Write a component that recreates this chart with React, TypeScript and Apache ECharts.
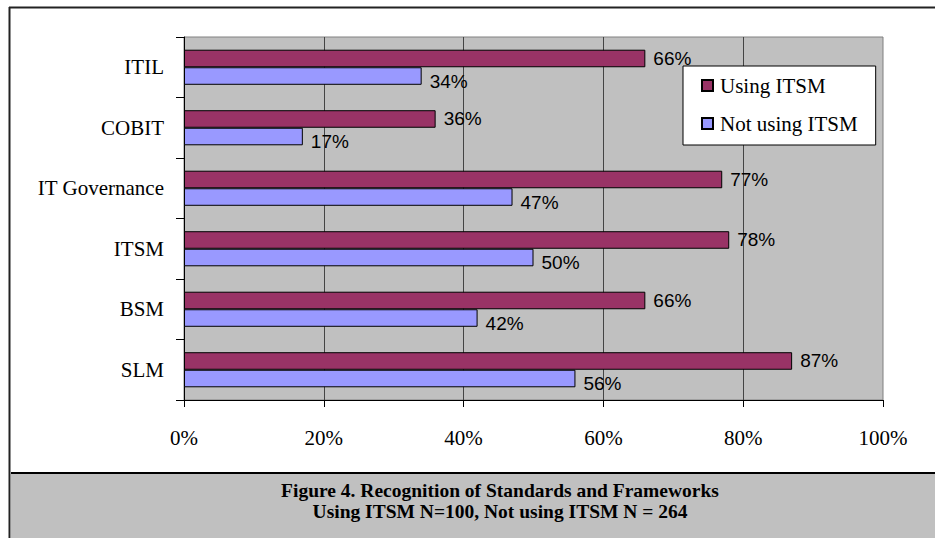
import React, { useEffect, useRef } from "react";
import * as echarts from "echarts";

const categories = ["ITIL", "COBIT", "IT Governance", "ITSM", "BSM", "SLM"];
const usingITSM = [66, 36, 77, 78, 66, 87];
const notUsingITSM = [34, 17, 47, 50, 42, 56];
const xTicks = [0, 20, 40, 60, 80, 100];
const seriesNames = ["Using ITSM", "Not using ITSM"];
const captionLines = [
  "Figure 4. Recognition of Standards and Frameworks",
  "Using ITSM N=100, Not using ITSM N = 264",
];

const SERIF = "'Liberation Serif', 'Times New Roman', serif";
const SANS = "'Liberation Sans', Arial, sans-serif";

export default function App() {
  const ref = useRef<HTMLDivElement>(null);
  useEffect(() => {
    if (!ref.current) return;
    const chart = echarts.init(ref.current, null, { renderer: "svg" });
    chart.setOption({
      animation: false,
      backgroundColor: "#ffffff",
      grid: {
        left: 184,
        top: 37,
        width: 699,
        height: 363,
        show: true,
        backgroundColor: "#C0C0C0",
        borderColor: "#808080",
        borderWidth: 1,
      },
      legend: {
        orient: "vertical",
        left: 683,
        top: 66,
        data: seriesNames,
        backgroundColor: "#ffffff",
        borderColor: "#000000",
        borderWidth: 1,
        padding: [9, 18, 11, 18],
        itemGap: 17,
        itemWidth: 11,
        itemHeight: 11,
        icon: "rect",
        textStyle: {
          fontFamily: SERIF,
          fontSize: 21,
          lineHeight: 20,
          color: "#000",
          padding: [0, 0, 0, 2],
        },
      },
      xAxis: {
        type: "value",
        min: xTicks[0],
        max: xTicks[xTicks.length - 1],
        interval: 20,
        axisLine: { show: true, lineStyle: { color: "#000", width: 1 } },
        axisTick: { show: true, length: 7, lineStyle: { color: "#000" } },
        axisLabel: {
          formatter: "{value}%",
          fontFamily: SERIF,
          fontSize: 21,
          color: "#000",
          margin: 27,
        },
        splitLine: {
          show: true,
          showMinLine: false,
          showMaxLine: false,
          lineStyle: { color: "#444", width: 1 },
        },
      },
      yAxis: {
        type: "category",
        data: categories,
        inverse: true,
        axisLine: { show: true, lineStyle: { color: "#000", width: 1 } },
        axisTick: { show: true, length: 8, lineStyle: { color: "#000" } },
        axisLabel: {
          fontFamily: SERIF,
          fontSize: 21,
          color: "#000",
          margin: 20,
        },
        splitLine: { show: false },
      },
      series: [
        {
          name: seriesNames[0],
          type: "bar",
          data: usingITSM,
          barGap: "0%",
          barCategoryGap: "42%",
          itemStyle: { color: "#993366", borderColor: "#000", borderWidth: 1 },
          label: {
            show: true,
            position: "right",
            distance: 8,
            formatter: "{c}%",
            fontFamily: SANS,
            fontSize: 19,
            color: "#000",
          },
        },
        {
          name: seriesNames[1],
          type: "bar",
          data: notUsingITSM,
          barGap: "0%",
          barCategoryGap: "42%",
          itemStyle: { color: "#9999FF", borderColor: "#000", borderWidth: 1 },
          label: {
            show: true,
            position: "right",
            distance: 8,
            offset: [0, 5],
            formatter: "{c}%",
            fontFamily: SANS,
            fontSize: 19,
            color: "#000",
          },
        },
      ],
      graphic: [
        {
          type: "rect",
          shape: { x: 11, y: 473, width: 924, height: 65 },
          style: { fill: "#C0C0C0" },
          z: 0,
        },
        {
          type: "line",
          shape: { x1: 11, y1: 473, x2: 935, y2: 473 },
          style: { stroke: "#000", lineWidth: 2 },
        },
        {
          type: "line",
          shape: { x1: 9.5, y1: 7, x2: 9.5, y2: 538 },
          style: { stroke: "#222", lineWidth: 2 },
        },
        {
          type: "line",
          shape: { x1: 9, y1: 7.5, x2: 935, y2: 7.5 },
          style: { stroke: "#222", lineWidth: 2 },
        },
        {
          type: "text",
          x: 500,
          y: 490,
          style: {
            text: captionLines[0],
            fontFamily: SERIF,
            fontSize: 19.5,
            fontWeight: "bold",
            fill: "#000",
            align: "center",
            verticalAlign: "middle",
          },
        },
        {
          type: "text",
          x: 500,
          y: 511,
          style: {
            text: captionLines[1],
            fontFamily: SERIF,
            fontSize: 19.5,
            fontWeight: "bold",
            fill: "#000",
            align: "center",
            verticalAlign: "middle",
          },
        },
      ],
    });
    return () => chart.dispose();
  }, []);
  return (
    <div
      ref={ref}
      style={{ position: "fixed", left: 0, top: 0, width: 935, height: 538 }}
    />
  );
}
